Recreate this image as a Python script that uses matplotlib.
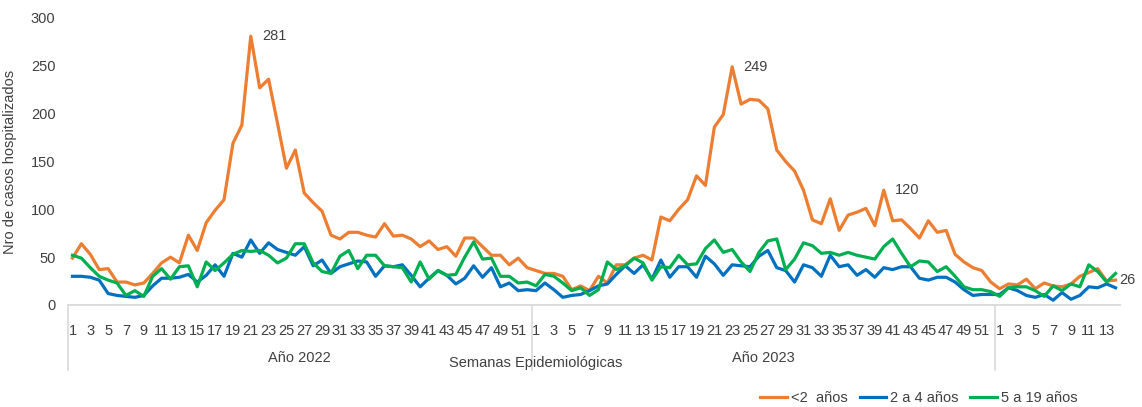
import numpy as np
import matplotlib.pyplot as plt
from matplotlib import transforms

plt.rcParams['font.family'] = ['Liberation Sans', 'DejaVu Sans']

years = ["Año 2022", "Año 2023", ""]
weeks_per_year = [52, 52, 14]

# <2 años
menores_2 = [49, 64, 53, 37, 38, 24, 24, 21, 23, 33, 44, 50, 44, 73, 57, 86, 99, 110, 169, 188,
             281, 227, 236, 190, 143, 162, 117, 107, 98, 73, 69, 76, 76, 73, 71, 85, 72, 73, 69, 61,
             67, 58, 61, 51, 70, 70, 61, 52, 52, 42, 49, 39,
             36, 33, 33, 30, 16, 20, 15, 30, 23, 42, 42, 49, 52, 47, 92, 88, 100, 110, 135, 125,
             186, 199, 249, 210, 215, 214, 205, 162, 150, 140, 120, 89, 85, 111, 78, 94, 97, 101, 83, 120,
             88, 89, 80, 70, 88, 76, 78, 53, 45, 39, 36, 24,
             17, 22, 21, 27, 17, 23, 20, 19, 22, 30, 34, 38, 25, 26]

# 2 a 4 años
de_2_a_4 = [30, 30, 29, 26, 12, 10, 9, 8, 10, 20, 28, 28, 29, 32, 24, 31, 42, 30, 54, 50,
            68, 54, 65, 58, 55, 52, 61, 41, 47, 33, 40, 43, 46, 45, 30, 41, 40, 42, 31, 19,
            28, 36, 31, 22, 28, 41, 29, 39, 19, 23, 15, 16,
            15, 23, 16, 8, 10, 11, 15, 20, 22, 32, 41, 33, 42, 27, 47, 29, 40, 40, 29, 51,
            43, 31, 42, 41, 40, 51, 57, 39, 36, 24, 42, 39, 30, 52, 40, 42, 31, 37, 29, 39,
            37, 40, 40, 28, 26, 29, 29, 24, 16, 10, 11, 11,
            11, 18, 15, 10, 8, 11, 5, 13, 6, 10, 19, 18, 22, 18]

# 5 a 19 años
de_5_a_19 = [52, 49, 39, 30, 26, 23, 10, 15, 9, 30, 38, 27, 40, 41, 19, 45, 36, 44, 53, 57,
             56, 57, 52, 44, 49, 64, 64, 44, 35, 33, 51, 57, 38, 52, 52, 41, 40, 39, 24, 45,
             27, 36, 31, 32, 50, 66, 48, 49, 30, 30, 23, 24,
             20, 32, 30, 23, 15, 18, 10, 16, 45, 37, 41, 49, 44, 26, 40, 39, 52, 42, 43, 59,
             68, 55, 58, 45, 35, 55, 67, 69, 37, 48, 65, 62, 54, 55, 52, 55, 52, 50, 48, 61,
             69, 54, 40, 46, 45, 35, 40, 30, 19, 16, 16, 14,
             9, 18, 19, 19, 15, 9, 20, 15, 22, 19, 42, 35, 24, 33]

labels_to_mark = [20, 74, 91, 117]  # positions with value labels

week_numbers = [w for n in weeks_per_year for w in range(1, n + 1)]
x = np.arange(len(week_numbers))

fig = plt.figure(figsize=(11.42, 4.07), dpi=100)
ax = fig.add_axes([68 / 1142, 1 - 305 / 407, (1120 - 68) / 1142, (305 - 18) / 407])

text_color = '#404040'
ax.plot(x, menores_2, color='#ED7D31', lw=2.3, label='<2  años')
ax.plot(x, de_2_a_4, color='#0070C0', lw=2.3, label='2 a 4 años')
ax.plot(x, de_5_a_19, color='#00B050', lw=2.3, label='5 a 19 años')

for i in labels_to_mark:
    dx = 3 if i == len(x) - 1 else 8
    ax.annotate(str(menores_2[i]), (x[i], menores_2[i]), xytext=(dx, 0),
                textcoords='offset points', fontsize=10.5, color=text_color,
                va='center', ha='left', annotation_clip=False)

ax.set_xlim(-0.5, len(x) - 0.5)
ax.set_ylim(0, 300)
ax.set_yticks(range(0, 301, 50))
odd = [i for i, w in enumerate(week_numbers) if w % 2 == 1]
ax.set_xticks(odd)
ax.set_xticklabels([str(week_numbers[i]) for i in odd])
ax.tick_params(axis='both', length=0, labelsize=10.5, colors=text_color)
ax.tick_params(axis='x', pad=14)
ax.tick_params(axis='y', pad=9)

for s in ['top', 'right', 'left']:
    ax.spines[s].set_visible(False)
ax.spines['bottom'].set_color('#D9D9D9')
ax.spines['bottom'].set_linewidth(1.3)

ax.set_ylabel('Nro de casos hospitalizados', fontsize=10.5, color=text_color, labelpad=10)

trans = transforms.blended_transform_factory(ax.transData, ax.transAxes)
px = 1 / 287  # one pixel in axes fraction (vertical)
bounds = [-0.5]
for n in weeks_per_year:
    bounds.append(bounds[-1] + n)
for b in bounds[:-1]:
    ax.plot([b, b], [0, -65 * px], transform=trans, color='#D9D9D9', lw=1.2, clip_on=False)
for name, a, b in zip(years, bounds[:-1], bounds[1:]):
    if name:
        ax.text((a + b) / 2, -53 * px, name, transform=trans, ha='center', va='center',
                fontsize=10.5, color=text_color)

ax.text(bounds[1] + 0.5, -58 * px, 'Semanas Epidemiológicas', transform=trans,
        ha='center', va='center', fontsize=10.5, color=text_color)

fig.legend(loc='center', bbox_to_anchor=(919 / 1142, 1 - 398 / 407), ncol=3, frameon=False,
           fontsize=10.5, handlelength=1.8, handletextpad=0.3, columnspacing=0.8,
           labelcolor=text_color)

fig.savefig('out.png', dpi=100)
